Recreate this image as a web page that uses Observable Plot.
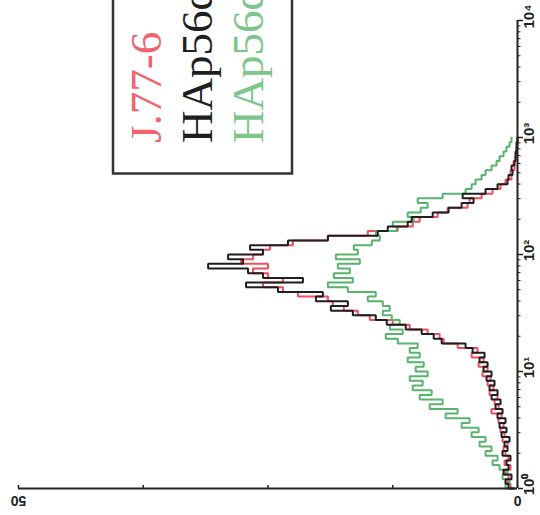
<!DOCTYPE html>
<html>
<head>
<meta charset="utf-8">
<script src="https://cdn.jsdelivr.net/npm/d3@7"></script>
<script src="https://cdn.jsdelivr.net/npm/@observablehq/plot@0.6"></script>
<style>
  html, body { margin: 0; padding: 0; background: #fff; }
  #chart { width: 540px; height: 515px; overflow: hidden; position: relative; }
  #chart svg { overflow: hidden; display: block; }
</style>
</head>
<body>
<div id="chart"></div>
<script>
// Channel positions (log10 of fluorescence intensity)
const channelLog = [0.00,0.04,0.08,0.12,0.16,0.20,0.24,0.28,0.32,0.36,
  0.40,0.44,0.48,0.52,0.56,0.60,0.64,0.68,0.72,0.76,
  0.80,0.84,0.88,0.92,0.96,1.00,1.04,1.08,1.12,1.16,
  1.20,1.24,1.28,1.32,1.36,1.40,1.44,1.48,1.52,1.56,
  1.60,1.64,1.68,1.72,1.76,1.80,1.84,1.88,1.92,1.96,
  2.00,2.04,2.08,2.12,2.16,2.20,2.24,2.28,2.32,2.36,
  2.40,2.44,2.48,2.52,2.56,2.60,2.64,2.68,2.72,2.76,
  2.80,2.84,2.88,2.92,2.96,3.00];

// Cell counts per channel
const countRed = [0.5,0.7,1.0,0.9,1.2,0.7,1.3,0.9,1.2,1.4,
  1.0,1.5,1.3,1.7,1.4,1.9,1.6,2.6,1.9,2.3,
  2.0,2.8,2.4,3.0,2.7,3.5,3.0,3.9,3.4,4.6,
  4.0,6.0,7.4,7.8,9.0,10.8,12.5,14.8,16.0,17.4,
  18.5,19.0,22.0,23.5,25.5,23.5,25.0,26.5,25.0,27.7,
  26.5,25.5,24.8,22.5,19.0,15.0,12.0,10.5,9.8,8.0,
  7.0,5.0,4.8,3.6,2.5,1.7,1.2,0.6,0.7,0.3,
  0.4,0.2,0.1,0.1,0,0];
const countBlack = [0.3,0.9,1.2,0.6,1.4,0.9,1.1,0.7,1.5,1.0,
  1.3,0.8,1.6,1.1,1.8,1.2,2.0,1.5,2.2,1.7,
  2.6,2.0,2.8,2.3,3.1,2.6,3.4,3.0,3.8,3.3,
  4.5,5.2,7.6,8.4,9.6,11.2,13.1,14.2,16.5,18.7,
  17.0,20.2,19.5,24.0,27.2,21.5,25.5,27.0,31.0,27.5,
  29.0,25.5,26.8,23.0,19.0,14.0,13.0,11.0,10.6,8.5,
  6.9,5.6,4.4,5.5,3.2,2.0,1.0,0.9,0.5,0.6,
  0.3,0.2,0.2,0.1,0.1,0];
const countGreen = [0.6,1.2,0.8,1.5,1.0,1.8,2.5,2.0,3.2,2.6,
  3.8,3.2,4.6,3.9,5.6,4.8,7.2,6.0,8.8,7.5,
  9.8,8.6,10.5,9.5,10.8,9.0,10.2,9.4,11.0,9.8,
  10.8,10.0,12.0,13.2,11.5,12.8,11.8,12.6,13.5,12.8,
  13.5,15.0,14.2,17.0,19.0,16.5,18.4,16.8,18.0,15.8,
  18.2,16.0,16.4,14.6,13.8,14.2,12.1,12.5,10.4,11.0,
  9.7,9.0,10.0,7.5,5.2,4.6,4.2,3.6,3.2,2.6,
  2.1,1.8,1.4,1.1,0.8,0.6];

const seriesKeys = ["J.77-6", "HAp56d (black)", "HAp56d (green)"];
const seriesColors = ["#ef4f5f", "#1f1f1f", "#58b46c"];
const legendLabels = ["J.77-6", "HAp56d", "HAp56d"];
const legendColors = ["#f0636f", "#1f1f1f", "#7cc68b"];

// Axis ticks and labels
const decades = [1, 10, 100, 1000, 10000];
const decadeLabels = ["10\u2070", "10\u00b9", "10\u00b2", "10\u00b3", "10\u2074"];
const minorTicks = [2,3,4,5,6,7,8,9,20,30,40,50,60,70,80,90,200,300,400,500,600,700,800,900,2000,3000,4000,5000,6000,7000,8000,9000];
const countTicks = [0, 12.5, 25, 37.5, 50];
const countLabels = [0, 50];

function rowsFor(key, values) {
  return values.map((v, i) => ({series: key, intensity: Math.pow(10, channelLog[i]), count: v}));
}
const redRows = rowsFor(seriesKeys[0], countRed);
const blackRows = rowsFor(seriesKeys[1], countBlack);
const greenRows = rowsFor(seriesKeys[2], countGreen);

const lineOpts = {x: "count", y: "intensity", stroke: "series", strokeWidth: 2, curve: "step-after", strokeLinejoin: "miter"};

const chart = Plot.plot({
  width: 540,
  height: 515,
  marginLeft: 18,
  marginRight: 23,
  marginTop: 20,
  marginBottom: 27,
  x: {domain: [0, 50], reverse: true, axis: null},
  y: {type: "log", domain: [1, 10000], axis: null},
  color: {domain: seriesKeys, range: seriesColors},
  style: {background: "white", fontFamily: "'Liberation Sans', Arial, sans-serif", color: "#222"},
  marks: [
    Plot.line(redRows, lineOpts),
    Plot.line(greenRows, lineOpts),
    Plot.line(blackRows, lineOpts),
    Plot.ruleX([0], {stroke: "#222", strokeWidth: 2}),
    Plot.ruleY([1], {stroke: "#222", strokeWidth: 2}),
    Plot.axisY({anchor: "right", ticks: decades, tickSize: 5, tickFormat: () => "", strokeWidth: 1.5, label: null}),
    Plot.axisY({anchor: "right", ticks: minorTicks, tickSize: 2.5, tickFormat: () => "", strokeWidth: 1, label: null}),
    Plot.tickX(countTicks, {x: d => d, insetTop: 465, stroke: "#222", strokeWidth: 1.5}),
    Plot.text(decades, {x: () => 0, y: d => d, text: (d, i) => decadeLabels[i], rotate: -90, dx: 12, dy: -4, fontSize: 15, fontWeight: "bold", fill: "#222"}),
    Plot.text(countLabels, {x: d => d, y: () => 1, text: d => String(d), rotate: 180, dy: 12, fontSize: 14, fontWeight: "bold", fill: "#222"})
  ]
});

document.getElementById("chart").appendChild(chart);

// Legend (partly cut off by the top edge, as in the reference)
const svg = d3.select(chart);
const lg = svg.append("g");
lg.append("rect")
  .attr("x", 113).attr("y", -30)
  .attr("width", 179).attr("height", 203.5)
  .attr("fill", "none").attr("stroke", "#333").attr("stroke-width", 2.5);
legendLabels.forEach((t, i) => {
  lg.append("text")
    .attr("transform", `translate(${161 + 51 * i},143) rotate(-90)`)
    .attr("text-anchor", "start")
    .attr("font-family", "'Liberation Serif', 'Times New Roman', serif")
    .attr("font-size", 45)
    .attr("fill", legendColors[i])
    .text(t);
});
</script>
</body>
</html>
